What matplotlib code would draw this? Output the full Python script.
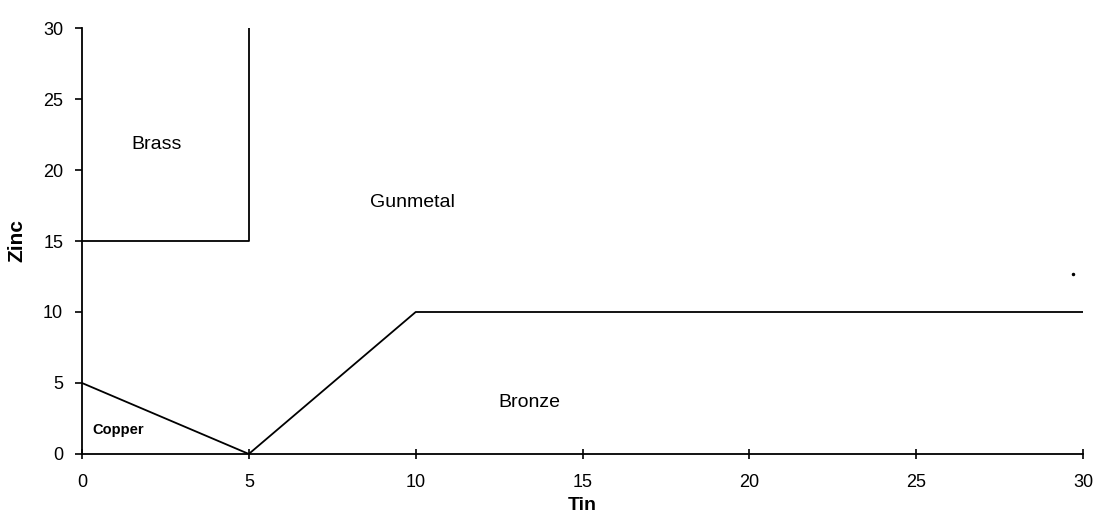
import matplotlib.pyplot as plt

plt.rcParams['font.family'] = ['Liberation Sans', 'DejaVu Sans']

# boundary lines of the copper alloy regions (tin %, zinc %)
brass_tin = [0, 5, 5]
brass_zinc = [15, 15, 30]

copper_tin = [0, 5]
copper_zinc = [5, 0]

bronze_tin = [5, 10, 30]
bronze_zinc = [0, 10, 10]

# region names and where they sit
region_names = ['Brass', 'Gunmetal', 'Bronze', 'Copper']
region_tin = [2.25, 9.9, 13.4, 1.1]
region_zinc = [21.8, 17.7, 3.6, 1.7]
region_sizes = [14, 14, 14, 10.5]

# stray speck
speck_tin = [29.7]
speck_zinc = [12.7]

ticks = [0, 5, 10, 15, 20, 25, 30]

fig = plt.figure(figsize=(10.97, 5.2), dpi=100)
ax = fig.add_axes([0.0747, 0.127, 0.9127, 0.819])

ax.plot(brass_tin, brass_zinc, color='black', lw=1.3)
ax.plot(copper_tin, copper_zinc, color='black', lw=1.3)
ax.plot(bronze_tin, bronze_zinc, color='black', lw=1.3)
ax.plot(speck_tin, speck_zinc, 'o', color='black', ms=1.5)

for name, tx, zy, fs in zip(region_names, region_tin, region_zinc, region_sizes):
    ax.text(tx, zy, name, fontsize=fs, fontweight='bold' if fs < 12 else 'normal',
            ha='center', va='center')

ax.set_xlim(0, 30)
ax.set_ylim(0, 30)
ax.set_xticks(ticks)
ax.set_yticks(ticks)

for side in ['top', 'right']:
    ax.spines[side].set_visible(False)
for side in ['left', 'bottom']:
    ax.spines[side].set_linewidth(1.3)
    ax.spines[side].set_color('black')

ax.tick_params(axis='x', direction='inout', length=7, width=1.2, pad=11, labelsize=13)
ax.tick_params(axis='y', direction='out', length=5, width=1.2, pad=8.5, labelsize=13)

ax.set_xlabel('Tin', fontsize=14, fontweight='bold', labelpad=4)
ax.set_ylabel('Zinc', fontsize=15, fontweight='bold', labelpad=12)

fig.savefig('out.png', dpi=100)
